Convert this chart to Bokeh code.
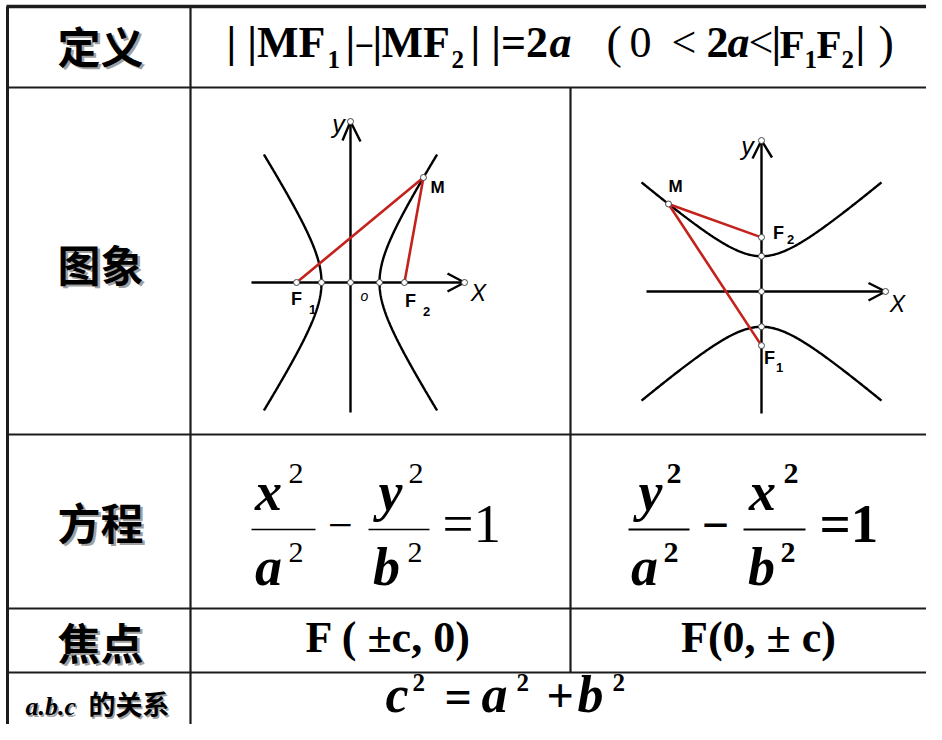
import numpy as np
from bokeh.plotting import figure
from bokeh.models import Range1d, ColumnDataSource
from bokeh.embed import file_html
from bokeh.resources import INLINE

# ---------------- content ----------------
row_labels = ["定义", "图象", "方程", "焦点"]
relation_label = ["a.b.c", "的关系"]
focus_left = "F ( ±c, 0)"
focus_right = "F(0, ± c)"

# hyperbola diagrams, in screen-pixel units
left_a, left_b = 29.0, 45.5          # x^2/a^2 - y^2/b^2 = 1
left_extent = 128.0                  # |y| range drawn
left_M_y = 105.0                     # M on right branch
right_a, right_b = 35.3, 41.0        # y^2/a^2 - x^2/b^2 = 1
right_extent = 120.0                 # |x| range drawn
right_M_x = -93.0                    # M on upper branch

# ---------------- figure ----------------
W, H = 926, 724
p = figure(width=W, height=H, x_range=Range1d(0, W), y_range=Range1d(H, 0),
           output_backend="svg", toolbar_location=None, min_border=0)
p.axis.visible = False
p.grid.visible = False
p.outline_line_color = None
p.background_fill_color = "white"
p.border_fill_color = "white"

LINE = "#1c1c1c"
RED = "#c4221c"

# table grid
hy = [6, 87, 434, 608, 672]
p.segment(x0=[6] * 5, y0=hy, x1=[W] * 5, y1=hy,
          line_color=LINE, line_width=[3.5, 2.2, 2.2, 2.2, 2.2])
p.segment(x0=[7, 190, 570], y0=[6, 6, 87], x1=[7, 190, 570], y1=[H, H, 672],
          line_color=LINE, line_width=[3, 2.2, 2.2])

# ---------------- text helpers ----------------
FONT = {'B': 'Liberation Serif', 'R': 'Liberation Serif', 'BI': 'Liberation Serif',
        'I': 'Liberation Serif', 'S': 'Liberation Sans', 'SB': 'Liberation Sans',
        'SI': 'Liberation Sans', 'CJK': 'Noto Sans CJK SC'}
STYLE = {'B': 'bold', 'R': 'normal', 'BI': 'bold italic', 'I': 'italic', 'S': 'normal',
         'SB': 'bold', 'SI': 'italic', 'CJK': 'bold'}
MID = {'B': 0.3375, 'R': 0.3375, 'BI': 0.3375, 'I': 0.3375, 'S': 0.3465, 'SB': 0.3465,
       'SI': 0.3465, 'CJK': 0.38}

T = dict(x=[], y=[], text=[], font=[], size=[], style=[], align=[], color=[])


def put(x, base, txt, key, size, align="left", color="black"):
    """place text so that its alphabetic baseline lies at `base`"""
    T['x'].append(x); T['y'].append(base - MID[key] * size); T['text'].append(txt)
    T['font'].append(FONT[key]); T['size'].append(f"{size}px"); T['style'].append(STYLE[key])
    T['align'].append(align); T['color'].append(color)


def putc(x, yc, txt, key, size, align="center", color="black"):
    """place text by its visual centre"""
    T['x'].append(x); T['y'].append(yc); T['text'].append(txt)
    T['font'].append(FONT[key]); T['size'].append(f"{size}px"); T['style'].append(STYLE[key])
    T['align'].append(align); T['color'].append(color)


SHADOW = "#a0a0a0"
# row labels with soft shadow
label_y = [44, 262, 520, 640]
for lab, yy in zip(row_labels, label_y):
    putc(102.5, yy + 2.5, lab, 'CJK', 43, color=SHADOW)
    putc(100, yy, lab, 'CJK', 43)
# a.b.c 的关系
put(26.5, 716.5, relation_label[0], 'BI', 26, color=SHADOW)
put(25, 715, relation_label[0], 'BI', 26)
putc(89.5, 704.5, relation_label[1], 'CJK', 27, "left", SHADOW)
putc(88, 703, relation_label[1], 'CJK', 27, "left")

# definition row:  | |MF1|−|MF2| |=2a ( 0 < 2a<|F1F2|)
DB, DS = 57, 67
put(226, DB, "| |MF", 'B', 44)
put(327, DS, "1", 'B', 25)
put(345, DB, "|", 'B', 44)
put(354, DB, "−", 'B', 34)
put(372, DB, "|", 'B', 44)
put(381, DB, "MF", 'B', 44)
put(451, DS, "2", 'B', 25)
put(470, DB, "| |=2", 'B', 44)
put(549, DB, "a", 'BI', 44)
put(606, DB + 1, "(", 'R', 46)
put(629, DB, "0", 'R', 44)
put(671, DB, "<", 'R', 44)
put(706, DB, "2", 'B', 44)
put(727, DB, "a", 'BI', 44)
put(748, DB, "<", 'R', 44)
put(771, DB, "|", 'B', 44)
put(779, DB, "F", 'B', 41)
put(804, DS, "1", 'B', 25)
put(816, DB, "F", 'B', 41)
put(841, DS, "2", 'B', 25)
put(855, DB, "|", 'B', 44)
put(878, DB + 1, ")", 'R', 46)

# equations row -------------------------------------------------
EQ = 54
SUP = 30
# left:  x^2/a^2 - y^2/b^2 = 1
put(268, 510, "x", 'BI', EQ, "center")
put(288, 483, "2", 'R', SUP)
put(268, 585, "a", 'BI', EQ, "center")
put(288, 562, "2", 'R', SUP)
put(340, 540, "−", 'R', 44, "center")
put(390, 510, "y", 'BI', EQ, "center")
put(408, 483, "2", 'R', SUP)
put(386, 585, "b", 'BI', EQ, "center")
put(407, 562, "2", 'R', SUP)
put(442, 542, "=1", 'R', 55)
# right: y^2/a^2 - x^2/b^2 = 1
put(650, 510, "y", 'BI', EQ, "center")
put(666, 483, "2", 'B', SUP)
put(644, 585, "a", 'BI', EQ, "center")
put(663, 562, "2", 'B', SUP)
put(715, 541, "−", 'B', 48, "center")
put(762, 510, "x", 'BI', EQ, "center")
put(783, 483, "2", 'B', SUP)
put(761, 585, "b", 'BI', EQ, "center")
put(780, 562, "2", 'B', SUP)
put(819, 542, "=1", 'B', 55)
p.segment(x0=[251, 368, 628, 743], y0=[529] * 4, x1=[315, 429, 689, 805], y1=[529] * 4,
          line_color="black", line_width=[1.6, 1.6, 2.2, 2.2])

# foci row
put(388, 652, focus_left, 'B', 44, "center")
put(758, 652, focus_right, 'B', 44, "center")

# relation row: c^2 = a^2 + b^2
RB = 712
RS = 52
put(385, RB, "c", 'BI', RS)
put(412, 690, "2", 'B', 25)
put(444, RB, "=", 'B', 48)
put(481, RB, "a", 'BI', RS)
put(516, 690, "2", 'B', 25)
put(546, RB, "+", 'B', 48)
put(577, RB, "b", 'BI', RS)
put(612, 690, "2", 'B', 25)

# ---------------- diagrams ----------------
# left: horizontal hyperbola
lcx, lcy = 350.0, 282.0
t = np.linspace(-left_extent, left_extent, 241)
lx = left_a * np.sqrt(1 + t ** 2 / left_b ** 2)
p.line(lcx + lx, lcy - t, line_color="black", line_width=2.4)
p.line(lcx - lx, lcy - t, line_color="black", line_width=2.4)
lc = np.sqrt(left_a ** 2 + left_b ** 2)
lMx = left_a * np.sqrt(1 + left_M_y ** 2 / left_b ** 2)
p.line([251, 464], [lcy, lcy], line_color="black", line_width=2.4)
p.line([lcx, lcx], [412, 121], line_color="black", line_width=2.4)
p.line([447, 464, 447], [273, lcy, 291], line_color="black", line_width=2.4)
p.line([342, lcx, 360], [140, 121, 141], line_color="black", line_width=2.4)
p.line([lcx - lc, lcx + lMx, lcx + lc], [lcy, lcy - left_M_y, lcy], line_color=RED, line_width=2.6)
p.scatter([lcx - lc, lcx - left_a, lcx, lcx + left_a, lcx + lc, lcx + lMx, 464, lcx],
          [lcy, lcy, lcy, lcy, lcy, lcy - left_M_y, lcy, 121],
          size=6, fill_color="white", line_color="#444444", line_width=1)

# right: vertical hyperbola
rcx, rcy = 761.0, 291.0
s = np.linspace(-right_extent, right_extent, 241)
ry = right_a * np.sqrt(1 + s ** 2 / right_b ** 2)
p.line(rcx + s, rcy - ry, line_color="black", line_width=2.4)
p.line(rcx + s, rcy + ry, line_color="black", line_width=2.4)
rc = np.sqrt(right_a ** 2 + right_b ** 2)
rMy = right_a * np.sqrt(1 + right_M_x ** 2 / right_b ** 2)
p.line([646, 885], [rcy, rcy], line_color="black", line_width=2.4)
p.line([rcx, rcx], [413, 140], line_color="black", line_width=2.4)
p.line([868, 885, 868], [282.5, rcy, 300], line_color="black", line_width=2.4)
p.line([752, rcx, 771.5], [158, 140, 157], line_color="black", line_width=2.4)
p.line([rcx, rcx + right_M_x, rcx], [rcy - rc, rcy - rMy, rcy + rc], line_color=RED, line_width=2.6)
p.scatter([rcx, rcx, rcx, rcx, rcx, rcx + right_M_x, 885, rcx],
          [rcy - rc, rcy - right_a, rcy, rcy + right_a, rcy + rc, rcy - rMy, rcy, 140],
          size=6, fill_color="white", line_color="#444444", line_width=1)

# diagram labels
putc(338, 123, "y", 'SI', 25)
putc(478, 292, "X", 'SI', 23)
putc(364, 295, "o", 'SI', 14)
putc(437, 187, "M", 'SB', 17)
putc(296, 298, "F", 'SB', 18)
putc(312, 309, "1", 'SB', 13)
putc(410, 300, "F", 'SB', 18)
putc(426, 311, "2", 'SB', 13)

putc(747, 145, "y", 'SI', 25)
putc(897, 303, "X", 'SI', 23)
putc(675, 186, "M", 'SB', 17)
putc(778, 232, "F", 'SB', 18)
putc(790, 239, "2", 'SB', 13)
putc(769, 357, "F", 'SB', 18)
putc(779, 367, "1", 'SB', 13)

src = ColumnDataSource(T)
p.text(x="x", y="y", text="text", source=src, text_font="font", text_font_size="size",
       text_font_style="style", text_align="align", text_baseline="middle", text_color="color")

open("out.html", "w").write(file_html(p, INLINE))
